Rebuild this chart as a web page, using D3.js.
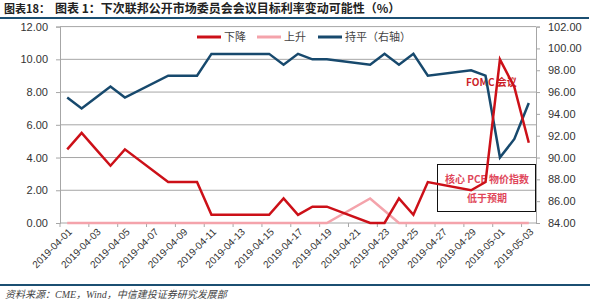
<!DOCTYPE html>
<html>
<head>
<meta charset="utf-8">
<script src="https://cdn.jsdelivr.net/npm/d3@7"></script>
<style>
  body { margin: 0; background: #fff; }
  svg { display: block; }
  .tick text { font-family: "Liberation Sans", Arial, sans-serif; font-size: 11px; fill: #333; }
</style>
</head>
<body>
<svg id="chart" width="600" height="300"></svg>
<script>
(() => {
    // trading days shown on the chart
    const dates = ["2019-04-01","2019-04-02","2019-04-03","2019-04-04","2019-04-05",
        "2019-04-08","2019-04-09","2019-04-10","2019-04-11","2019-04-12",
        "2019-04-15","2019-04-16","2019-04-17","2019-04-18","2019-04-19",
        "2019-04-22","2019-04-23","2019-04-24","2019-04-25","2019-04-26",
        "2019-04-29","2019-04-30","2019-05-01","2019-05-02","2019-05-03"];
    const cutProb  = [4.5,5.5,4.5,3.5,4.5, 2.5,2.5,2.5,0.5,0.5, 0.5,1.5,0.5,1.0,1.0, 0,0,1.5,0.5,2.5, 2.0,2.5,10.0,8.3,4.9];
    const hikeProb = [0,0,0,0,0, 0,0,0,0,0, 0,0,0,0,0, 1.5,0.75,0,0,0, 0,0,0,0,0];
    const holdProb = [95.5,94.5,95.5,96.5,95.5, 97.5,97.5,97.5,99.5,99.5, 99.5,98.5,99.5,99.0,99.0, 98.5,99.5,98.5,99.5,97.5, 98.0,97.5,90.0,91.7,95.0];

    const leftTicks = [0, 2, 4, 6, 8, 10, 12];
    const rightTicks = [84, 86, 88, 90, 92, 94, 96, 98, 100, 102];

    const parse = d3.timeParse("%Y-%m-%d");
    const fmt = d3.timeFormat("%Y-%m-%d");
    // category axis covers every calendar day
    const allDays = d3.timeDay.range(parse("2019-04-01"), d3.timeDay.offset(parse("2019-05-03"), 1)).map(fmt);
    const labelDays = allDays.filter((d, i) => i % 2 === 0);

    const svg = d3.select("#chart");
    const left = 60, right = 536, top = 26.6, bottom = 223;

    const x = d3.scaleBand().domain(allDays).range([left, right]).padding(0);
    const yL = d3.scaleLinear().domain([0, 12]).range([bottom, top]);
    const yR = d3.scaleLinear().domain([84, 102]).range([bottom, top]);
    const cx = d => x(d) + x.bandwidth() / 2;

    // title + rules
    const titleFont = "'Noto Sans CJK SC', sans-serif";
    svg.append("text").attr("x", 4).attr("y", 13)
        .style("font-family", titleFont).style("font-size", "11px")
        .style("font-weight", "bold").attr("fill", "#222").text("图表18：");
    svg.append("text").attr("x", 55).attr("y", 13)
        .style("font-family", titleFont).style("font-size", "12px")
        .style("font-weight", "bold").attr("fill", "#222")
        .text("图表 1：下次联邦公开市场委员会会议目标利率变动可能性（%）");
    svg.append("line").attr("x1", 0).attr("x2", 589).attr("y1", 18).attr("y2", 18)
        .attr("stroke", "#1b4f72").attr("stroke-width", 2);
    svg.append("line").attr("x1", 0).attr("x2", 590).attr("y1", 285).attr("y2", 285)
        .attr("stroke", "#1b4f72").attr("stroke-width", 2);
    svg.append("text").attr("x", 5).attr("y", 298)
        .style("font-family", "'Liberation Serif', 'Noto Sans CJK SC', serif").style("font-size", "10px")
        .style("font-style", "italic").attr("fill", "#444")
        .text("资料来源：CME，Wind，中信建投证券研究发展部");

    // gridlines
    svg.append("g").selectAll("line").data(leftTicks.filter(d => d > 0)).join("line")
        .attr("x1", left).attr("x2", right)
        .attr("y1", d => yL(d)).attr("y2", d => yL(d))
        .attr("stroke", "#a6a6a6").attr("stroke-width", 1);

    // axes
    const axL = svg.append("g").attr("transform", `translate(${left},0)`)
        .call(d3.axisLeft(yL).tickValues(leftTicks).tickFormat(d3.format(".2f")).tickSize(4).tickPadding(8));
    const axR = svg.append("g").attr("transform", `translate(${right},0)`)
        .call(d3.axisRight(yR).tickValues(rightTicks).tickFormat(d3.format(".2f")).tickSize(4).tickPadding(8));
    [axL, axR].forEach(a => {
        a.select(".domain").attr("stroke", "#a6a6a6");
        a.selectAll(".tick line").attr("stroke", "#a6a6a6");
    });

    svg.append("line").attr("x1", left).attr("x2", right).attr("y1", bottom).attr("y2", bottom)
        .attr("stroke", "#a6a6a6");
    const xt = svg.append("g");
    xt.selectAll("line").data(labelDays).join("line")
        .attr("x1", d => x(d)).attr("x2", d => x(d))
        .attr("y1", bottom).attr("y2", bottom + 4)
        .attr("stroke", "#a6a6a6");
    xt.selectAll("text").data(labelDays).join("text")
        .attr("transform", d => `translate(${cx(d) + 3},${bottom + 7}) rotate(-45)`)
        .attr("text-anchor", "end").attr("dy", "0.35em")
        .style("font-family", "'Liberation Sans', Arial, sans-serif").style("font-size", "10px")
        .attr("fill", "#333").text(d => d);

    // annotation box
    svg.append("rect").attr("x", 437.5).attr("y", 164.5).attr("width", 98).attr("height", 47)
        .attr("fill", "none").attr("stroke", "#111").attr("stroke-width", 1);
    const noteFont = "'Noto Sans CJK SC', sans-serif";
    svg.append("text").attr("x", 487).attr("y", 183).attr("text-anchor", "middle")
        .style("font-family", noteFont).style("font-size", "10px").style("font-weight", "bold")
        .attr("fill", "#e0475a").text("核心 PCE 物价指数");
    svg.append("text").attr("x", 487).attr("y", 202).attr("text-anchor", "middle")
        .style("font-family", noteFont).style("font-size", "10px").style("font-weight", "bold")
        .attr("fill", "#e0475a").text("低于预期");
    svg.append("text").attr("x", 466).attr("y", 86)
        .style("font-family", noteFont).style("font-size", "10px").style("font-weight", "bold")
        .attr("fill", "#cc1f28").text("FOMC 会议");

    // lines
    const series = [
        { name: "上升", values: hikeProb, y: yL, color: "#f4a3ab" },
        { name: "持平（右轴）", values: holdProb, y: yR, color: "#17496d" },
        { name: "下降", values: cutProb, y: yL, color: "#cc1018" }
    ];
    series.forEach(s => {
        const line = d3.line().x((d, i) => cx(dates[i])).y(d => s.y(d));
        svg.append("path").datum(s.values)
            .attr("d", line).attr("fill", "none")
            .attr("stroke", s.color).attr("stroke-width", 2.5)
            .attr("stroke-linejoin", "miter");
    });

    // legend
    const legend = [
        { name: "下降", color: "#cc1018", x: 197 },
        { name: "上升", color: "#f4a3ab", x: 257 },
        { name: "持平（右轴）", color: "#17496d", x: 318 }
    ];
    const lg = svg.append("g").selectAll("g").data(legend).join("g")
        .attr("transform", d => `translate(${d.x},37)`);
    lg.append("line").attr("x1", 0).attr("x2", 24).attr("stroke", d => d.color).attr("stroke-width", 3);
    lg.append("text").attr("x", 27).attr("dy", "0.35em")
        .style("font-family", "'Noto Sans CJK SC', sans-serif").style("font-size", "11px")
        .attr("fill", "#444").text(d => d.name);
})();
</script>
</body>
</html>
